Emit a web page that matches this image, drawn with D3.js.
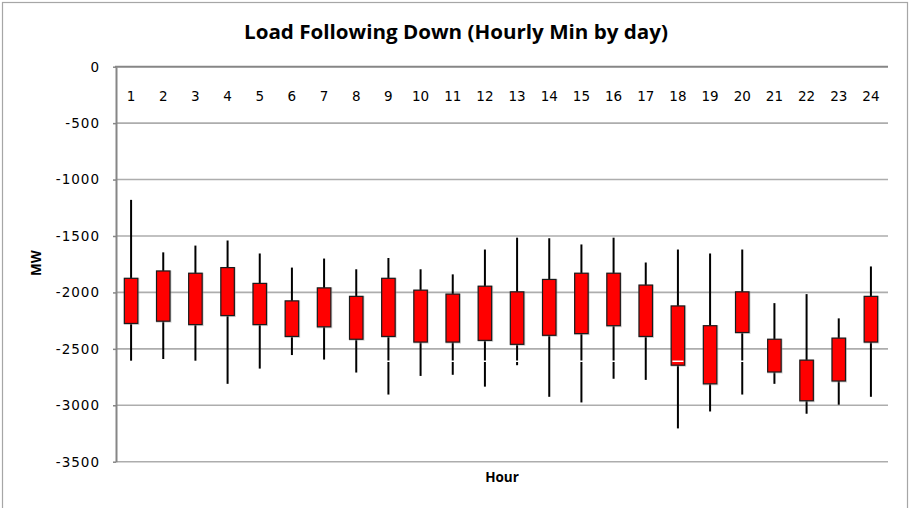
<!DOCTYPE html>
<html>
<head>
<meta charset="utf-8">
<script src="https://cdn.jsdelivr.net/npm/d3@7"></script>
<style>
  body { margin: 0; background: #fff; }
  svg { display: block; }
</style>
</head>
<body>
<svg id="chart" width="909" height="508"></svg>
<script>
// values (MW)
var hours = d3.range(1, 25);
var high = [-1180, -1645, -1585, -1540, -1655, -1780, -1700, -1795, -1695, -1795, -1840, -1620,
            -1515, -1520, -1575, -1515, -1735, -1620, -1655, -1620, -2095, -2015, -2230, -1770];
var boxTop = [-1875, -1810, -1830, -1780, -1920, -2075, -1960, -2035, -1875, -1980, -2015, -1945,
              -1995, -1885, -1830, -1830, -1935, -2120, -2295, -1995, -2415, -2600, -2405, -2035];
var boxBottom = [-2275, -2255, -2285, -2205, -2285, -2390, -2305, -2415, -2390, -2440, -2440, -2425,
                 -2460, -2380, -2365, -2295, -2390, -2645, -2810, -2355, -2705, -2960, -2785, -2440];
var low = [-2605, -2590, -2605, -2810, -2675, -2555, -2595, -2710, -2905, -2740, -2730, -2835,
           -2645, -2925, -2975, -2765, -2775, -3205, -3055, -2905, -2810, -3075, -2995, -2925];
// small white marks seen on some hours
var marks = [null, null, null, null, null, null, null, null, -2610, null, -2610, -2610,
             -2610, null, -2610, -2610, null, -2610, null, -2610, null, null, null, null];
var yTicks = [0, -500, -1000, -1500, -2000, -2500, -3000, -3500];

var svg = d3.select("#chart");
var plotLeft = 116, plotRight = 888, plotTop = 66.7, plotBottom = 461.7;

// outer chart border
svg.append("rect").attr("x", 2.5).attr("y", 2.5).attr("width", 905).attr("height", 520)
    .attr("fill", "none").attr("stroke", "#a6a6a6").attr("stroke-width", 1.2);

var x = d3.scaleBand().domain(hours).range([plotLeft, plotRight]);
var y = d3.scaleLinear().domain([0, -3500]).range([plotTop, plotBottom]);

function cx(d) { return x(d) + x.bandwidth() / 2 - 1; }

// gridlines
svg.append("g").selectAll("line")
    .data(yTicks.slice(1))
    .enter().append("line")
    .attr("x1", plotLeft).attr("x2", plotRight)
    .attr("y1", function (d) { return y(d); })
    .attr("y2", function (d) { return y(d); })
    .attr("stroke", "#adadad").attr("stroke-width", 1.6);

// y axis
var yAxis = svg.append("g").attr("transform", "translate(" + plotLeft + ",0)")
    .call(d3.axisLeft(y).tickValues(yTicks).tickSize(3).tickPadding(13).tickSizeOuter(0)
        .tickFormat(function (d) { return String(d); }));
yAxis.select(".domain").attr("stroke", "#868686").attr("stroke-width", 2);
yAxis.selectAll(".tick line").attr("stroke", "#868686").attr("stroke-width", 1.5);
yAxis.selectAll(".tick text")
    .attr("font-family", "DejaVu Sans").attr("font-size", 13.5)
    .attr("letter-spacing", 1).attr("fill", "#000");

// top category axis line at 0
svg.append("line").attr("x1", plotLeft - 1).attr("x2", plotRight)
    .attr("y1", y(0)).attr("y2", y(0))
    .attr("stroke", "#868686").attr("stroke-width", 2);

// hour labels
svg.append("g").selectAll("text")
    .data(hours)
    .enter().append("text")
    .attr("x", cx)
    .attr("y", 101)
    .attr("text-anchor", "middle")
    .attr("font-family", "DejaVu Sans").attr("font-size", 13.5)
    .text(function (d) { return d; });

var boxW = 13.5;

// high-low lines
svg.append("g").selectAll("line")
    .data(hours)
    .enter().append("line")
    .attr("x1", cx).attr("x2", cx)
    .attr("y1", function (d, i) { return y(high[i]); })
    .attr("y2", function (d, i) { return y(low[i]); })
    .attr("stroke", "#000").attr("stroke-width", 2);

// box shadows
svg.append("g").selectAll("rect")
    .data(hours)
    .enter().append("rect")
    .attr("x", function (d) { return cx(d) - boxW / 2 - 0.5; })
    .attr("y", function (d, i) { return y(boxTop[i]) - 0.5; })
    .attr("width", boxW + 2)
    .attr("height", function (d, i) { return y(boxBottom[i]) - y(boxTop[i]) + 2; })
    .attr("fill", "#999").attr("opacity", 0.45);

// boxes
svg.append("g").selectAll("rect")
    .data(hours)
    .enter().append("rect")
    .attr("x", function (d) { return cx(d) - boxW / 2; })
    .attr("y", function (d, i) { return y(boxTop[i]); })
    .attr("width", boxW)
    .attr("height", function (d, i) { return y(boxBottom[i]) - y(boxTop[i]); })
    .attr("fill", "#ff0000").attr("stroke", "#1a1a1a").attr("stroke-width", 1.2);

// white marks
svg.append("g").selectAll("line")
    .data(hours.filter(function (d, i) { return marks[i] != null; }))
    .enter().append("line")
    .attr("x1", function (d) { return cx(d) - 5.5; })
    .attr("x2", function (d) { return cx(d) + 5.5; })
    .attr("y1", function (d) { return y(marks[d - 1]); })
    .attr("y2", function (d) { return y(marks[d - 1]); })
    .attr("stroke", "#fff").attr("stroke-width", 1.5);

// title
svg.append("text")
    .attr("x", 456).attr("y", 38.5)
    .attr("text-anchor", "middle")
    .attr("font-family", "Open Sans").attr("font-weight", "bold").attr("font-size", 20)
    .attr("textLength", 424).attr("lengthAdjust", "spacingAndGlyphs")
    .text("Load Following Down (Hourly Min by day)");

// axis titles
svg.append("text")
    .attr("transform", "translate(41,263) rotate(-90)")
    .attr("text-anchor", "middle")
    .attr("font-family", "Open Sans").attr("font-weight", "bold").attr("font-size", 13.5)
    .text("MW");

svg.append("text")
    .attr("x", 502).attr("y", 482)
    .attr("text-anchor", "middle")
    .attr("font-family", "Open Sans").attr("font-weight", "bold").attr("font-size", 13.5)
    .text("Hour");
</script>
</body>
</html>
